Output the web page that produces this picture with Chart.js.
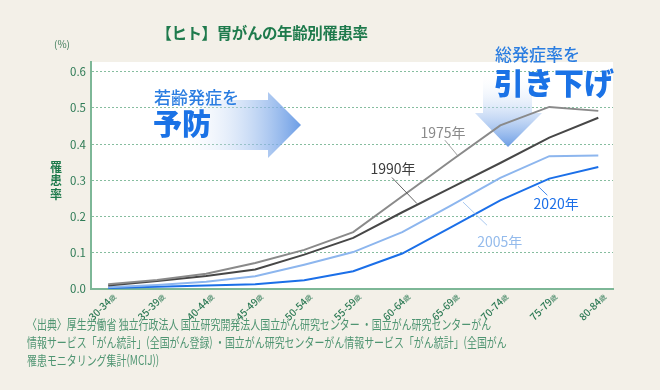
<!DOCTYPE html>
<html lang="ja">
<head>
<meta charset="UTF-8" />
<title>【ヒト】胃がんの年齢別罹患率</title>
<script src="https://cdn.jsdelivr.net/npm/chart.js"></script>
<style>
    body { margin: 0; background: #f3f0e8; font-family: "Noto Sans CJK JP", sans-serif; }
    #wrap { position: relative; width: 660px; height: 390px; overflow: hidden; }
    #title {
        position: absolute; left: 0; top: 21px; width: 524px; text-align: center;
        font-size: 15.5px; font-weight: bold; color: #1e7a4c; letter-spacing: -0.4px;
    }
    #source {
        position: absolute; left: 27px; top: 315px; width: 800px; white-space: nowrap;
        font-size: 13px; line-height: 18px; color: #4f9572;
        transform: scaleX(0.765); transform-origin: left top;
    }
</style>
</head>
<body>
<div id="wrap">
    <canvas id="chart" width="660" height="390"></canvas>
    <div id="title">【ヒト】胃がんの年齢別罹患率</div>
    <div id="source">〈出典〉厚生労働省 独立行政法人 国立研究開発法人国立がん研究センター ・国立がん研究センターがん<br>情報サービス「がん統計」(全国がん登録) ・国立がん研究センターがん情報サービス「がん統計」(全国がん<br>罹患モニタリング集計(MCIJ))</div>
</div>

<script>
    // age groups (x axis)
    const ages = ["30-34", "35-39", "40-44", "45-49", "50-54", "55-59", "60-64", "65-69", "70-74", "75-79", "80-84"];

    // incidence rate (%) per year
    const rate1975 = [0.013, 0.025, 0.042, 0.072, 0.108, 0.157, 0.256, 0.355, 0.452, 0.503, 0.492];
    const rate1990 = [0.010, 0.022, 0.036, 0.054, 0.095, 0.141, 0.212, 0.280, 0.348, 0.418, 0.473];
    const rate2005 = [0.005, 0.011, 0.020, 0.035, 0.067, 0.102, 0.157, 0.231, 0.307, 0.367, 0.369];
    const rate2020 = [0.003, 0.006, 0.010, 0.013, 0.024, 0.049, 0.098, 0.171, 0.245, 0.305, 0.337];

    const yTicks = [0, 0.1, 0.2, 0.3, 0.4, 0.5, 0.6];

    const GREEN = "#1e7a4c";
    const TICK_GREEN = "#2d7a55";
    const AXIS_GREEN = "#7db797";

    // label positions in data units: [label text, x, y, leader from x,y, leader to x,y, color]
    const yearLabels = [
        ["1975年", 6.83, 0.433, 6.87, 0.411, 7.14, 0.367, "#8a8a8a"],
        ["1990年", 5.81, 0.333, 5.79, 0.308, 6.30, 0.236, "#3c3c3c"],
        ["2005年", 7.99, 0.132, 7.24, 0.240, 7.73, 0.176, "#94bbec"],
        ["2020年", 9.14, 0.236, 8.77, 0.284, 8.96, 0.259, "#1b6fe8"]
    ];

    const toPoints = arr => arr.map((v, i) => ({ x: i, y: v }));

    const decor = {
        id: "decor",
        beforeDraw(chart) {
            const { ctx, chartArea: a } = chart;
            ctx.save();
            ctx.fillStyle = "#ffffff";
            ctx.fillRect(a.left, a.top, a.right - a.left, a.bottom - a.top);
            ctx.restore();
        },
        beforeDatasetsDraw(chart) {
            const ctx = chart.ctx;
            ctx.save();
            // right pointing arrow
            let g = ctx.createLinearGradient(175, 0, 301, 0);
            g.addColorStop(0, "rgba(255,255,255,0)");
            g.addColorStop(1, "rgba(100,152,228,0.95)");
            ctx.fillStyle = g;
            ctx.beginPath();
            ctx.moveTo(160, 100);
            ctx.lineTo(268, 100);
            ctx.lineTo(268, 92);
            ctx.lineTo(301, 125);
            ctx.lineTo(268, 158);
            ctx.lineTo(268, 150);
            ctx.lineTo(160, 150);
            ctx.closePath();
            ctx.fill();
            // down pointing arrow
            g = ctx.createLinearGradient(0, 72, 0, 147);
            g.addColorStop(0, "rgba(255,255,255,0)");
            g.addColorStop(1, "rgba(100,152,228,0.95)");
            ctx.fillStyle = g;
            ctx.beginPath();
            ctx.moveTo(483, 62);
            ctx.lineTo(532, 62);
            ctx.lineTo(532, 113);
            ctx.lineTo(542, 113);
            ctx.lineTo(508, 147);
            ctx.lineTo(475, 113);
            ctx.lineTo(483, 113);
            ctx.closePath();
            ctx.fill();
            ctx.restore();
        },
        afterDatasetsDraw(chart) {
            const { ctx, scales: { x, y }, chartArea: a } = chart;
            ctx.save();
            const font = "\"Noto Sans CJK JP\", sans-serif";

            // year labels with leader lines
            yearLabels.forEach(([t, lx, ly, x1, y1, x2, y2, c]) => {
                ctx.strokeStyle = c;
                ctx.lineWidth = 0.8;
                ctx.beginPath();
                ctx.moveTo(x.getPixelForValue(x1), y.getPixelForValue(y1));
                ctx.lineTo(x.getPixelForValue(x2), y.getPixelForValue(y2));
                ctx.stroke();
                ctx.fillStyle = c;
                ctx.font = "14px " + font;
                ctx.textAlign = "center";
                ctx.textBaseline = "middle";
                ctx.fillText(t, x.getPixelForValue(lx), y.getPixelForValue(ly));
            });

            // arrow captions
            ctx.textAlign = "left";
            ctx.textBaseline = "middle";
            ctx.fillStyle = "#2a7de1";
            ctx.font = "500 17px " + font;
            ctx.fillText("若齢発症を", 154, 98);
            ctx.fillText("総発症率を", 495, 55);
            ctx.fillStyle = "#1a72e6";
            ctx.font = "900 29px " + font;
            ctx.fillText("予防", 153, 124);
            ctx.font = "900 30px " + font;
            ctx.fillText("引き下げ", 494, 83);

            // x tick labels, rotated with small 歳
            ctx.fillStyle = TICK_GREEN;
            ages.forEach((lab, i) => {
                const px = x.getPixelForValue(i);
                ctx.save();
                ctx.translate(px + 6, a.bottom + 6);
                ctx.rotate(-Math.PI / 4);
                ctx.textAlign = "right";
                ctx.textBaseline = "middle";
                ctx.font = "7px " + font;
                ctx.fillText("歳", 0, 1);
                const w = ctx.measureText("歳").width;
                ctx.font = "500 10px " + font;
                ctx.fillText(lab, -w, 0);
                ctx.restore();
            });

            // y axis title, stacked characters
            ctx.fillStyle = GREEN;
            ctx.font = "bold 12px " + font;
            ctx.textAlign = "center";
            ctx.textBaseline = "middle";
            const yTitle = ["罹", "患", "率"];
            yTitle.forEach((ch, i) => ctx.fillText(ch, 56, 167 + i * 13.5));

            ctx.fillStyle = "#3f7d5a";
            ctx.font = "10px " + font;
            ctx.fillText("(%)", 62, 44);
            ctx.restore();
        }
    };

    const mkSet = (label, data, color) => ({
        label: label,
        data: toPoints(data),
        borderColor: color,
        backgroundColor: color,
        borderWidth: 2,
        pointRadius: 0,
        tension: 0
    });

    new Chart(document.getElementById("chart"), {
        type: "line",
        data: {
            datasets: [
                mkSet("1975年", rate1975, "#8a8a8a"),
                mkSet("1990年", rate1990, "#474747"),
                mkSet("2005年", rate2005, "#8db6ee"),
                mkSet("2020年", rate2020, "#1b6fe8")
            ]
        },
        options: {
            responsive: false,
            animation: false,
            layout: { padding: { left: 0, top: 62, right: 47, bottom: 0 } },
            plugins: { legend: { display: false }, tooltip: { enabled: false } },
            scales: {
                x: {
                    type: "linear",
                    min: -0.35,
                    max: 10.3,
                    grid: { display: false },
                    border: { color: AXIS_GREEN, width: 2 },
                    ticks: { display: false },
                    afterFit: s => { s.height = 101; }
                },
                y: {
                    min: 0,
                    max: 0.627,
                    afterBuildTicks: s => { s.ticks = yTicks.map(v => ({ value: v })); },
                    grid: {
                        drawTicks: false,
                        color: c => c.tick.value === 0 ? "rgba(0,0,0,0)" : "#86bd9f",
                        lineWidth: 1
                    },
                    border: { color: AXIS_GREEN, width: 2, dash: [2, 2] },
                    ticks: {
                        padding: 5,
                        color: TICK_GREEN,
                        font: { size: 11.5, family: "\"Noto Sans CJK JP\", sans-serif" },
                        callback: v => v.toFixed(1)
                    },
                    afterFit: s => { s.width = 91; }
                }
            }
        },
        plugins: [decor]
    });
</script>
</body>
</html>
